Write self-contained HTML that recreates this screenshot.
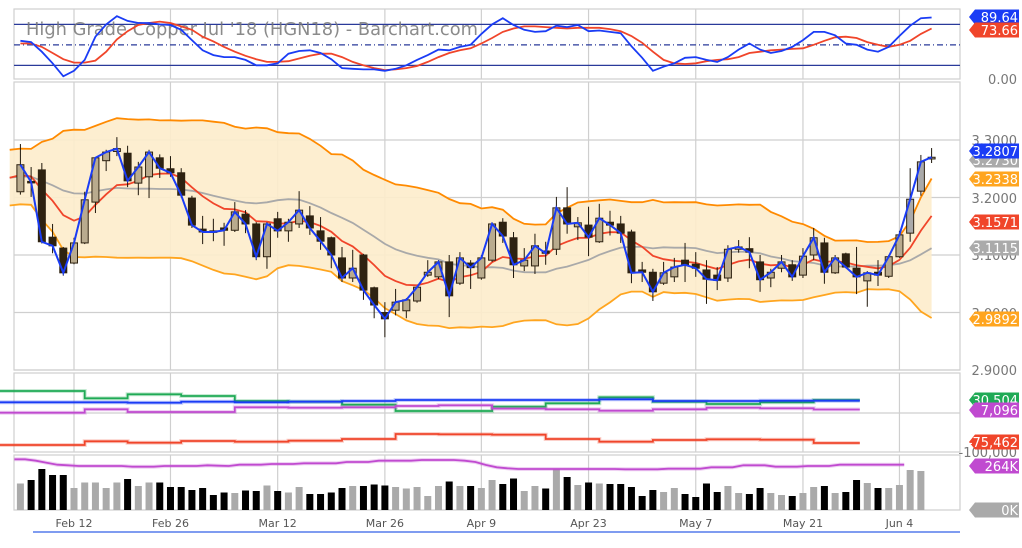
<!DOCTYPE html>
<html><head><meta charset="utf-8">
<style>
html,body{margin:0;padding:0;background:#fff;}
svg{display:block;font-family:"DejaVu Sans","Liberation Sans",sans-serif;}
</style></head>
<body>
<svg id="chart" width="1022" height="548" viewBox="0 0 1022 548" xmlns="http://www.w3.org/2000/svg"></svg>
<script>
// ---------- DATA ----------
const dateLabels = ["Feb 12","Feb 26","Mar 12","Mar 26","Apr 9","Apr 23","May 7","May 21","Jun 4"];
const dateIdx = [5,14,24,34,43,53,63,73,82];
const priorCloses = [3.215,3.24,3.262,3.27,3.25,3.222,3.205,3.19,3.21,3.235,3.248,3.262,3.275,3.265,3.242,3.22,3.2,3.215,3.238,3.226];
const opens = [3.210,3.228,3.248,3.131,3.112,3.086,3.121,3.192,3.264,3.280,
3.277,3.225,3.236,3.269,3.250,3.243,3.199,3.145,3.142,3.147,
3.143,3.171,3.154,3.097,3.163,3.142,3.154,3.168,3.142,3.130,
3.095,3.060,3.100,3.043,3.000,3.004,3.003,3.020,3.065,3.062,
3.088,3.051,3.086,3.060,3.091,3.157,3.130,3.081,3.081,3.107,
3.110,3.182,3.149,3.152,3.123,3.157,3.154,3.140,3.074,3.070,
3.051,3.062,3.091,3.084,3.074,3.065,3.060,3.110,3.111,3.088,
3.060,3.077,3.083,3.065,3.100,3.121,3.069,3.102,3.077,3.055,
3.070,3.063,3.097,3.138,3.211,3.267];
const closes = [3.257,3.227,3.123,3.116,3.069,3.121,3.196,3.269,3.279,3.285,
3.229,3.253,3.279,3.251,3.243,3.204,3.152,3.140,3.140,3.143,
3.175,3.154,3.097,3.154,3.142,3.157,3.178,3.147,3.124,3.100,
3.060,3.077,3.039,3.013,2.989,3.018,3.022,3.044,3.070,3.088,
3.029,3.095,3.078,3.095,3.154,3.133,3.083,3.091,3.116,3.103,
3.182,3.154,3.156,3.131,3.164,3.152,3.138,3.069,3.070,3.036,
3.069,3.079,3.083,3.077,3.058,3.056,3.110,3.114,3.105,3.057,
3.070,3.088,3.062,3.098,3.130,3.070,3.095,3.079,3.062,3.069,
3.065,3.097,3.135,3.197,3.262,3.270];
const highs = [3.293,3.253,3.260,3.154,3.114,3.130,3.210,3.269,3.283,3.305,
3.290,3.262,3.283,3.275,3.272,3.251,3.203,3.168,3.163,3.156,
3.192,3.178,3.157,3.157,3.175,3.163,3.211,3.185,3.166,3.132,
3.114,3.109,3.102,3.045,3.018,3.041,3.025,3.046,3.091,3.091,
3.100,3.105,3.091,3.100,3.157,3.164,3.140,3.112,3.137,3.123,
3.201,3.218,3.166,3.184,3.189,3.177,3.168,3.144,3.088,3.076,
3.088,3.095,3.121,3.105,3.091,3.079,3.117,3.126,3.131,3.100,
3.076,3.100,3.091,3.112,3.147,3.130,3.100,3.104,3.114,3.072,
3.091,3.100,3.142,3.251,3.274,3.286];
const lows = [3.205,3.201,3.120,3.103,3.064,3.084,3.119,3.173,3.246,3.272,
3.218,3.204,3.199,3.234,3.236,3.200,3.147,3.119,3.124,3.116,
3.140,3.138,3.091,3.076,3.130,3.123,3.147,3.135,3.109,3.077,
3.053,3.053,3.022,2.990,2.957,2.995,2.990,3.017,3.062,3.058,
2.992,3.048,3.041,3.057,3.088,3.121,3.060,3.072,3.067,3.083,
3.100,3.137,3.126,3.098,3.121,3.134,3.121,3.051,3.053,3.020,
3.048,3.053,3.053,3.062,3.015,3.039,3.053,3.104,3.077,3.036,
3.044,3.070,3.055,3.060,3.091,3.050,3.067,3.077,3.032,3.010,
3.046,3.060,3.095,3.123,3.203,3.260];
const stochK = [56,54,40,23,4,12,28,62,80,92,85,82,82,80,79,72,57,42,35,32,
32,28,20,20,23,37,41,42,38,29,16,15,14,14,12,15,20,28,35,43,
42,47,50,66,80,89,79,72,69,70,78,76,79,70,71,69,67,48,31,12,
18,23,31,32,28,25,32,43,52,43,38,41,47,57,69,69,64,52,50,43,
40,47,63,78,89,90];
const stochD = [52,52,47,38,29,24,24,27,40,58,70,79,82,84,82,77,72,62,55,47,
40,34,29,25,25,26,30,34,37,37,32,25,20,16,13,14,16,19,25,32,
38,42,45,52,60,69,74,77,77,76,75,74,75,75,75,73,70,63,53,40,
28,23,22,23,26,28,29,32,38,40,42,43,44,45,50,56,61,62,60,54,
50,47,50,56,66,74];
const cotWeekStart = [-2,6,10,15,20,25,30,35,39,44,49,54,59,64,69,74];
const cotEnd = 78.3;
const cotGreen = [52700,34600,44500,40400,28000,26400,19000,3400,3400,14100,22300,37100,26400,20700,24800,30500];
const cotBlue = [24800,24800,23900,26400,24800,26400,28000,30500,30500,30500,30500,32200,28000,28000,28900,28900];
const cotPurple = [-700,7500,900,900,12400,11600,12400,15700,17400,9200,7500,4200,7500,11600,10000,7100];
const cotRed = [-80400,-71300,-74600,-70500,-72200,-69700,-65600,-53300,-54100,-54900,-65600,-72200,-68100,-66400,-67200,-75460];
const volumeK = [53,60,82,70,70,44,55,55,44,55,62,48,55,55,46,46,40,44,30,35,
34,39,38,49,38,35,46,32,32,35,44,48,48,51,49,46,43,46,28,48,
57,48,48,44,60,52,63,38,48,43,82,66,50,55,53,52,52,46,28,40,
36,44,32,26,53,36,48,34,32,44,34,30,28,34,46,48,34,36,60,54,44,44,50,80,78];
const openIntK = [304,304,296,284,272,268,264,264,264,264,264,260,260,260,264,264,264,264,268,266,
264,272,272,272,276,276,276,280,280,280,280,288,288,288,296,296,296,296,300,300,
300,300,296,288,270,256,250,246,246,246,246,246,246,246,246,246,246,244,244,244,
244,248,248,248,248,256,256,256,268,268,268,260,260,260,264,264,264,272,272,272,272,272,272,272];

// ---------- SCALES ----------
const X = i => 20.4 + 10.72*i;
const Yp = p => 140 + (3.3 - p)*575;
const Ys = v => 79 - v*0.683;
const Yc = v => 400 - (v - 30504)/2464;
const Yv = k => 510 - k/2;
const Yo = k => 510 - k/6;

const NS = "http://www.w3.org/2000/svg";
const svg = document.getElementById('chart');
function mk(tag, attrs, parent){
  const el = document.createElementNS(NS, tag);
  for (const k in attrs) el.setAttribute(k, attrs[k]);
  (parent||svg).appendChild(el);
  return el;
}
function poly(pts){ return pts.map((p,j)=>(j?'L':'M')+p[0].toFixed(1)+','+p[1].toFixed(1)).join(''); }

// ---------- FRAME / GRID ----------
const grid = mk('g',{});


const panels = [[9,79],[82,370],[373,452],[455,510]];
panels.forEach((p,k)=>{
  const r = mk('rect',{x:14,y:p[0],width:946,height:p[1]-p[0],fill:'none',stroke:'#cfcfcf','stroke-width':1.2},grid);
  
  
});
dateIdx.forEach((d,k)=>{
  panels.forEach(p=>{
    const l = mk('line',{x1:X(d),x2:X(d),y1:p[0],y2:p[1],stroke:'#cfcfcf','stroke-width':1.2},grid);
    
    
  });
});
const priceTicks = [3.3,3.2,3.1,3.0,2.9];
priceTicks.forEach(t=>{
  const l = mk('line',{x1:14,x2:960,y1:Yp(t),y2:Yp(t),stroke:'#cfcfcf','stroke-width':1.2},grid);
  
  
});
const cotGrid = mk('line',{x1:14,x2:960,y1:413,y2:413,stroke:'#cfcfcf','stroke-width':1.2},grid);



// ---------- STOCHASTIC PANEL ----------
const st = mk('g',{});


[[80,'none'],[20,'none'],[50,'6,3,1,3']].forEach(([v,d])=>{
  const l = mk('line',{x1:14,x2:960,y1:Ys(v),y2:Ys(v),stroke:'#2a3a9a','stroke-width':1.2,'stroke-dasharray':d},st);
  
  
});
const title = mk('text',{x:26,y:35,'font-size':18,fill:'#777','fill-opacity':0.85,textLength:452,lengthAdjust:'spacingAndGlyphs'},st);
title.textContent = "High Grade Copper Jul '18 (HGN18) - Barchart.com";


const dLine = mk('path',{d:poly(stochD.map((v,i)=>[X(i),Ys(v)])),fill:'none',stroke:'#f0452a','stroke-width':1.8},st);


const kLine = mk('path',{d:poly(stochK.map((v,i)=>[X(i),Ys(v)])),fill:'none',stroke:'#1a3cf5','stroke-width':1.8},st);



// ---------- INDICATORS ----------
const all = priorCloses.concat(closes);
const P = priorCloses.length;
const up=[],lo=[],mid=[],ema=[];
let e = priorCloses.reduce((a,b)=>a+b,0)/P;
const alpha = 2/(9+1);
for (let i=-1;i<closes.length;i++){
  const end = P+i;
  const win = all.slice(end-19, end+1);
  const m = win.reduce((a,b)=>a+b,0)/win.length;
  const sd = Math.sqrt(win.reduce((a,b)=>a+(b-m)*(b-m),0)/win.length);
  if (i>=0) e = alpha*closes[i] + (1-alpha)*e;
  up.push([X(i),Yp(m+2*sd)]); lo.push([X(i),Yp(m-2*sd)]); mid.push([X(i),Yp(m)]); ema.push([X(i),Yp(e)]);
}
const main = mk('g',{});


const band = mk('path',{d:poly(up.concat(lo.slice().reverse()))+'Z',fill:'#fdeccb','fill-opacity':0.9},main);


const upL = mk('path',{d:poly(up),fill:'none',stroke:'#ff8a00','stroke-width':1.8},main);


const loL = mk('path',{d:poly(lo),fill:'none',stroke:'#ffa51f','stroke-width':1.8},main);


const midL = mk('path',{d:poly(mid),fill:'none',stroke:'#a9a9a9','stroke-width':1.8},main);


const emaL = mk('path',{d:poly(ema),fill:'none',stroke:'#f0452a','stroke-width':1.8},main);



closes.forEach((c,i)=>{
  const o=opens[i], h=Math.max(highs[i],o,c), l=Math.min(lows[i],o,c);
  const x=X(i), upC = c>=o;
  const g = mk('g',{},main);
  
  
  mk('line',{x1:x,x2:x,y1:Yp(h),y2:Yp(l),stroke:'#1e160a','stroke-width':1},g);
  const top=Yp(Math.max(o,c)), bh=Math.max(1.5,Math.abs(Yp(o)-Yp(c)));
  const fill = upC ? (i>=83 ? '#aaaaaa' : '#b9ab8e') : '#2e2211';
  mk('rect',{x:x-3.5,y:top,width:7,height:bh,fill:fill,stroke:'#2e2211','stroke-width':1},g);
});
const closeL = mk('path',{d:poly(closes.map((c,i)=>[X(i),Yp(c)])),fill:'none',stroke:'#1a3cf5','stroke-width':2},main);



// ---------- COT PANEL ----------
const cot = mk('g',{});


function stepPath(vals){
  const pts=[];
  vals.forEach((v,k)=>{
    const x0 = Math.max(0, X(cotWeekStart[k])), x1 = X(k+1<cotWeekStart.length?cotWeekStart[k+1]:cotEnd);
    pts.push([x0,Yc(v)]); pts.push([x1,Yc(v)]);
  });
  return poly(pts);
}
[[cotGreen,'#1faa55','cot-commercials'],[cotBlue,'#1a3cf5','cot-large-specs'],[cotPurple,'#c04ad0','cot-small-specs'],[cotRed,'#f0452a','cot-net-line']].forEach(([vals,col,name])=>{
  const glow = mk('path',{d:stepPath(vals),fill:'none',stroke:col,'stroke-width':4,'stroke-opacity':0.25},cot);
  
  
  const p = mk('path',{d:stepPath(vals),fill:'none',stroke:col,'stroke-width':1.8},cot);
  
  
});

// ---------- VOLUME PANEL ----------
const vol = mk('g',{});


volumeK.forEach((k,i)=>{
  const b = mk('rect',{x:X(i)-3.5,y:Yv(k),width:7,height:510-Yv(k),fill: closes[i]>=opens[i] ? '#aaaaaa' : '#000000'},vol);
  
  
});
const oiGlow = mk('path',{d:poly(openIntK.map((k,i)=>[X(i)-6,Yo(k)])),fill:'none',stroke:'#c04ad0','stroke-width':4,'stroke-opacity':0.25},vol);


const oi = mk('path',{d:poly(openIntK.map((k,i)=>[X(i)-6,Yo(k)])),fill:'none',stroke:'#c04ad0','stroke-width':1.8},vol);



// ---------- AXES TEXT ----------
const ax = mk('g',{});


const axisTexts = [["0.00",79],["3.3000",140],["3.2000",198],["3.1000",255],["3.0000",313],["2.9000",370],["-100,000",452]];
axisTexts.forEach(([t,y])=>{
  const tx = mk('text',{x:1017,y:y+5,'text-anchor':'end','font-size':13,fill:'#777'},ax);
  tx.textContent = t;
  
  
});
const tags = [["89.64",17,'#1a3cf5'],["73.66",30,'#f0452a'],["3.2730",160,'#aaaaaa'],["3.2807",151,'#1a3cf5'],["3.2338",179,'#ffa51f'],["3.1571",222,'#f0452a'],["3.1115",248,'#aaaaaa'],["2.9892",319,'#ffa51f'],["30,504",400,'#1faa55'],["7,096",410,'#c04ad0'],["-75,462",442,'#f0452a'],["264K",466,'#c04ad0'],["0K",510,'#aaaaaa']];
tags.forEach(([t,y,c])=>{
  const g = mk('g',{},ax);
  
  
  mk('path',{d:`M969,${y} L975,${y-7.5} L1019,${y-7.5} L1019,${y+7.5} L975,${y+7.5} Z`,fill:c},g);
  const tx = mk('text',{x:1018,y:y+5,'text-anchor':'end','font-size':13,fill:'#fff'},g);
  tx.textContent = t;
});
const xa = mk('g',{});


dateLabels.forEach((t,k)=>{
  const tx = mk('text',{x:X(dateIdx[k]),y:527,'text-anchor':'middle','font-size':11,fill:'#555'},xa);
  tx.textContent = t;
  
  
});
const scroll = mk('line',{x1:33,x2:960,y1:532,y2:532,stroke:'#7f9cf0','stroke-width':2},xa);


</script>
</body></html>
